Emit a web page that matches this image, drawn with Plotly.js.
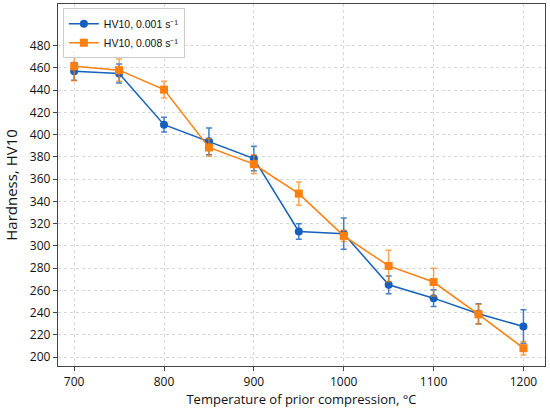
<!DOCTYPE html>
<html><head><meta charset="utf-8">
<script src="https://cdn.plot.ly/plotly-3.0.1.min.js"></script>
<style>html,body{margin:0;padding:0;background:#fff}#c{width:550px;height:411px}</style>
</head><body><div id="c"></div>
<script>
var temps = [700, 750, 800, 850, 900, 950, 1000, 1050, 1100, 1150, 1200];
var hvSlow = [457, 455, 409, 394, 378.5, 313, 311, 265, 253, 239, 227.5];
var errSlow = [8, 8.5, 6.7, 12, 11, 7, 14, 8, 7.5, 9, 15];
var hvFast = [461.5, 458, 440.5, 388.5, 373.5, 347, 309, 282, 267.5, 238.5, 208];
var errFast = [13, 10, 7.5, 8, 8.4, 10.5, 5, 14, 12.5, 9, 6];
var xTicks = [700, 800, 900, 1000, 1100, 1200];
var yTicks = [200, 220, 240, 260, 280, 300, 320, 340, 360, 380, 400, 420, 440, 460, 480];
var names = ['HV10, 0.001 s\u207B\u00B9', 'HV10, 0.008 s\u207B\u00B9'];

var blue = '#1560bd', orange = '#ff7f0e';
var traces = [
  {x: temps, y: hvSlow, name: names[0], type: 'scatter', mode: 'lines+markers',
   line: {color: blue, width: 1.5}, marker: {symbol: 'circle', size: 8, color: blue},
   error_y: {type: 'data', array: errSlow, visible: true, color: 'rgba(21,96,189,0.8)', thickness: 1.5, width: 3}},
  {x: temps, y: hvFast, name: names[1], type: 'scatter', mode: 'lines+markers',
   line: {color: orange, width: 1.5}, marker: {symbol: 'square', size: 8, color: orange},
   error_y: {type: 'data', array: errFast, visible: true, color: 'rgba(255,127,14,0.7)', thickness: 1.5, width: 3}}
];
var ax = {
  showline: true, mirror: true, linecolor: '#444', linewidth: 1.2,
  ticks: 'outside', ticklen: 4, tickcolor: '#444', tickwidth: 1,
  showgrid: true, gridcolor: '#d6d6d6', griddash: 'dot', gridwidth: 1,
  zeroline: false, tickfont: {family: 'Open Sans, sans-serif', size: 12, color: '#111'}
};
var layout = {
  width: 550, height: 411, margin: {l: 58, r: 5, t: 4, b: 45},
  paper_bgcolor: '#fff', plot_bgcolor: '#fff',
  xaxis: Object.assign({}, ax, {range: [682, 1224], tickvals: xTicks,
    title: {text: 'Temperature of prior compression, \u00B0C', standoff: 4,
      font: {family: 'Open Sans, sans-serif', size: 13, color: '#111'}}}),
  yaxis: Object.assign({}, ax, {range: [192, 517.5], tickvals: yTicks,
    title: {text: 'Hardness, HV10', standoff: 8,
      font: {family: 'Open Sans, sans-serif', size: 15, color: '#111'}}}),
  legend: {x: 0.01, y: 0.988, xanchor: 'left', yanchor: 'top',
    bgcolor: 'rgba(255,255,255,0.9)', bordercolor: '#ccc', borderwidth: 1,
    font: {family: 'Liberation Sans, sans-serif', size: 10.5, color: '#111'},
    tracegroupgap: 0, itemwidth: 30},
  showlegend: true
};
Plotly.newPlot('c', traces, layout, {staticPlot: true, displayModeBar: false});
</script></body></html>
